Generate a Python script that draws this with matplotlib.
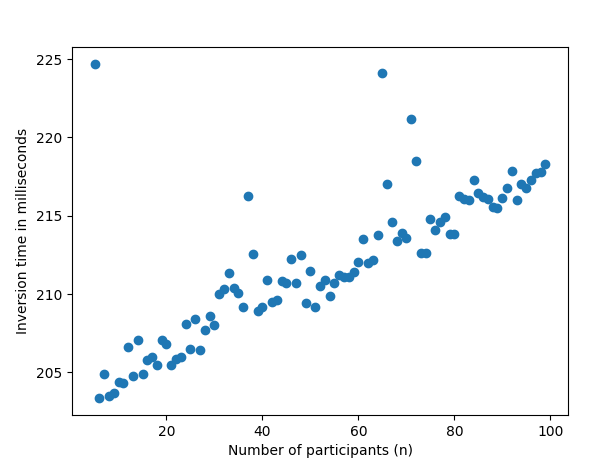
import matplotlib
matplotlib.use("Agg")
import matplotlib.pyplot as plt
import numpy as np

n_participants = list(range(5, 100))
inversion_ms = [
    224.7, 203.35, 204.9, 203.5, 203.7, 204.4, 204.3, 206.6, 204.8, 207.1,
    204.9, 205.8, 206.0, 205.5, 207.1, 206.8, 205.5, 205.85, 206.0, 208.1,
    206.5, 208.4, 206.45, 207.7, 208.6, 208.0, 210.0, 210.35, 211.35, 210.4,
    210.1, 209.2, 216.25, 212.55, 208.9, 209.2, 210.9, 209.5, 209.6, 210.85,
    210.7, 212.25, 210.7, 212.5, 209.4, 211.5, 209.2, 210.5, 210.9, 209.9,
    210.7, 211.2, 211.1, 211.1, 211.4, 212.05, 213.5, 212.0, 212.2, 213.8,
    224.1, 217.0, 214.6, 213.4, 213.9, 213.6, 221.2, 218.5, 212.65, 212.6,
    214.8, 214.1, 214.6, 214.9, 213.85, 213.85, 216.25, 216.05, 216.0, 217.25,
    216.45, 216.2, 216.05, 215.55, 215.5, 216.15, 216.8, 217.85, 216.0, 217.0,
    216.8, 217.25, 217.7, 217.8, 218.3,
]

fig = plt.figure(figsize=(6.05, 4.66), dpi=100)
ax = fig.add_subplot(111)
fig.subplots_adjust(left=72/605, right=568/605, top=1-47/466, bottom=1-415/466)
ax.scatter(n_participants, inversion_ms)
ax.set_xlabel("Number of participants (n)")
ax.set_ylabel("Inversion time in milliseconds")
fig.savefig("out.png", dpi=100)
